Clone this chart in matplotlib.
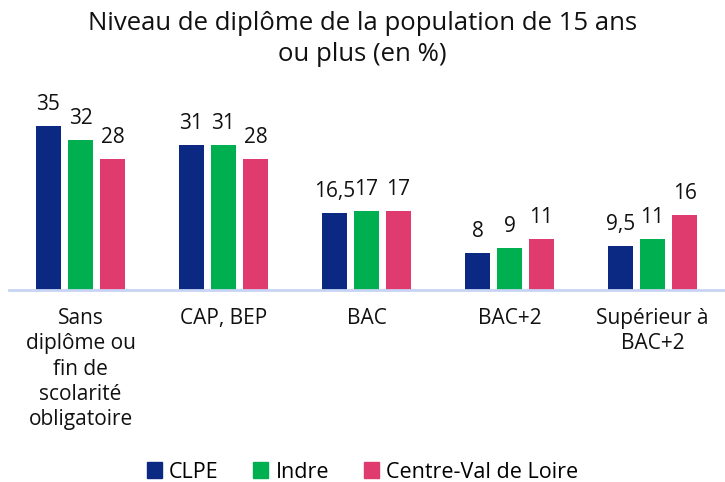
import numpy as np
import matplotlib.pyplot as plt

plt.rcParams['font.family'] = ['Open Sans', 'DejaVu Sans']

# data
categories = ['Sans\ndiplôme ou\nfin de\nscolarité\nobligatoire', 'CAP, BEP', 'BAC',
              'BAC+2', 'Supérieur à\nBAC+2']
series_names = ['CLPE', 'Indre', 'Centre-Val de Loire']
clpe = [35, 31, 16.5, 8, 9.5]
indre = [32, 31, 17, 9, 11]
centre = [28, 28, 17, 11, 16]
colors = ['#0b2882', '#00b050', '#e03b6e']


def fmt(v):
    if v == int(v):
        return str(int(v))
    return str(v).replace('.', ',')


fig = plt.figure(figsize=(7.25, 4.82), dpi=100)
# baseline at y=290px, plot spans x 9..724px
ax = fig.add_axes([9 / 725, (482 - 290) / 482, 715 / 725, 187 / 482])

x = np.arange(len(categories))
width = 0.175
step = 0.224
for i, (name, vals) in enumerate(zip(series_names, [clpe, indre, centre])):
    pos = x + (i - 1) * step
    ax.bar(pos, vals, width, color=colors[i], label=name)
    for p, v in zip(pos, vals):
        ax.annotate(fmt(v), (p, v), xytext=(0, 11.5), textcoords='offset points',
                    ha='center', va='baseline', fontsize=15, color='#111111')

ax.set_xlim(-0.5, 4.5)
ax.set_ylim(0, 40)
ax.set_yticks([])
ax.set_xticks(x)
ax.set_xticklabels(categories, fontsize=15, color='#111111', linespacing=1.27)
ax.tick_params(axis='x', length=0, pad=13)
for s in ['top', 'right', 'left']:
    ax.spines[s].set_visible(False)
ax.spines['bottom'].set_color('#c8d4f4')
ax.spines['bottom'].set_linewidth(2)

fig.text(0.5, 1 - 39 / 482, 'Niveau de diplôme de la population de 15 ans\nou plus (en %)',
         ha='center', va='center', fontsize=18.5, color='#111111', linespacing=1.3)

handles = [plt.Rectangle((0, 0), 1, 1, color=c) for c in colors]
fig.legend(handles, series_names, loc='center', bbox_to_anchor=(0.5, 1 - 472 / 482),
           ncol=3, frameon=False, fontsize=15.5, handlelength=0.7, handleheight=0.7,
           handletextpad=0.35, columnspacing=1.6)

fig.savefig('out.png', dpi=100)
